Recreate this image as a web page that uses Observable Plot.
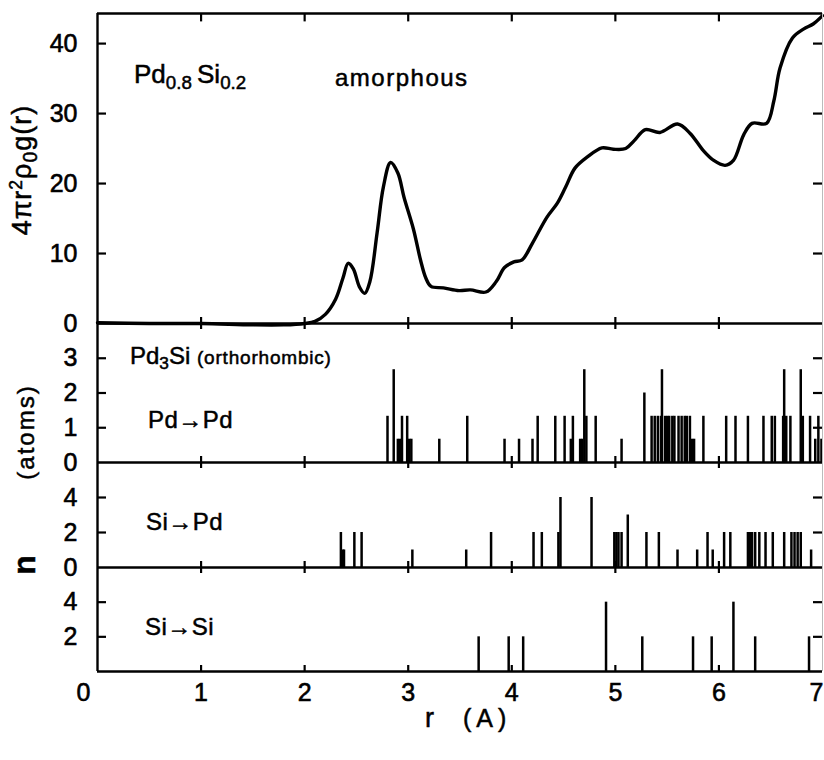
<!DOCTYPE html>
<html><head><meta charset="utf-8">
<script src="https://cdn.jsdelivr.net/npm/d3@7"></script>
<script src="https://cdn.jsdelivr.net/npm/@observablehq/plot@0.6"></script>
<style>
body{margin:0;background:#fff;}
#fig{position:relative;width:824px;height:760px;background:#fff;font-family:"Liberation Sans",Arial,sans-serif;color:#000;overflow:hidden;}
#fig svg{position:absolute;left:0;}
#fig svg text{stroke:#000;stroke-width:0.6px;}
.lbl,.rot{-webkit-text-stroke:0.5px #000;}
.lbl{position:absolute;white-space:nowrap;line-height:1;}
.rot{position:absolute;white-space:nowrap;line-height:1;transform:translate(-50%,-50%) rotate(-90deg);}
sub{font-size:0.72em;vertical-align:-0.3em;}
sup{font-size:0.65em;vertical-align:0.55em;}
</style></head><body><div id="fig"></div>
<script>
// ---------- data ----------
const rCurve = [0, 0.5, 1.0, 1.5, 1.8, 2.0, 2.1, 2.2, 2.3, 2.37, 2.42, 2.47, 2.53, 2.58, 2.63, 2.7, 2.76, 2.83, 2.9, 2.96, 3.05, 3.12, 3.17, 3.22, 3.34, 3.49, 3.6, 3.75, 3.85, 3.93, 4.02, 4.1, 4.2, 4.34, 4.44, 4.52, 4.61, 4.73, 4.87, 4.98, 5.1, 5.18, 5.29, 5.43, 5.6, 5.72, 5.85, 5.95, 6.06, 6.14, 6.24, 6.32, 6.46, 6.53, 6.59, 6.71, 6.82, 6.91, 7.0];
const gCurve = [0.1, 0.0, 0.0, -0.2, -0.2, 0.0, 0.3, 1.3, 3.5, 6.5, 8.6, 7.8, 5.2, 4.3, 6.0, 13.0, 19.5, 23.0, 21.5, 18.0, 13.5, 9.0, 6.5, 5.3, 5.1, 4.7, 4.8, 4.5, 6.0, 8.0, 8.8, 9.1, 11.5, 15.2, 17.2, 19.5, 22.2, 23.8, 25.1, 24.9, 25.0, 26.1, 27.7, 27.3, 28.5, 27.2, 24.7, 23.3, 22.6, 23.3, 27.0, 28.6, 28.6, 31.8, 36.5, 40.8, 42.1, 42.8, 44.0];

const pdpdR = [2.80, 2.86, 2.90, 2.92, 2.94, 2.99, 3.01, 3.03, 3.30, 3.57, 3.93, 4.07, 4.20, 4.25, 4.42, 4.51, 4.57, 4.59, 4.66, 4.68, 4.70, 4.72, 4.81, 5.06, 5.28, 5.35, 5.38, 5.41, 5.44, 5.45, 5.48, 5.50, 5.52, 5.55, 5.57, 5.61, 5.64, 5.67, 5.69, 5.72, 5.74, 5.76, 5.85, 6.07, 6.16, 6.28, 6.43, 6.51, 6.54, 6.62, 6.63, 6.65, 6.69, 6.79, 6.81, 6.88, 6.93, 6.96, 6.99];
const pdpdN = [1.33, 2.67, 0.67, 0.67, 1.33, 1.33, 0.67, 0.67, 0.67, 1.33, 0.67, 0.67, 0.67, 1.33, 1.33, 1.33, 0.67, 1.33, 0.67, 0.67, 2.67, 1.33, 1.33, 0.67, 2.0, 1.33, 1.33, 1.33, 1.33, 2.67, 1.33, 1.33, 1.33, 1.33, 1.33, 1.33, 1.33, 1.33, 1.33, 1.33, 0.67, 0.67, 1.33, 1.33, 1.33, 1.33, 1.33, 1.33, 1.33, 1.33, 2.67, 1.33, 1.33, 2.67, 1.33, 1.33, 0.67, 1.33, 0.67];

const sipdR = [2.35, 2.37, 2.38, 2.48, 2.55, 3.04, 3.56, 3.80, 4.21, 4.29, 4.45, 4.47, 4.77, 4.99, 5.01, 5.03, 5.06, 5.12, 5.30, 5.42, 5.60, 5.79, 5.89, 5.94, 6.05, 6.11, 6.28, 6.30, 6.32, 6.35, 6.39, 6.45, 6.52, 6.63, 6.70, 6.73, 6.76, 6.79, 6.89];
const sipdN = [2, 1, 1, 2, 2, 1, 1, 2, 2, 2, 2, 4, 4, 2, 2, 2, 2, 3, 2, 2, 1, 1, 2, 1, 2, 2, 2, 2, 2, 2, 2, 2, 2, 2, 2, 2, 2, 2, 1];

const sisiR = [3.68, 3.97, 4.11, 4.91, 5.26, 5.75, 5.93, 6.14, 6.35, 6.87];
const sisiN = [2, 2, 2, 4, 2, 2, 2, 4, 2, 2];

const xTicks = [0, 1, 2, 3, 4, 5, 6, 7];
const yTicksA = [0, 10, 20, 30, 40];
const yTicksB = [0, 1, 2, 3];
const yTicksC = [0, 2, 4];
const yTicksD = [2, 4];
const yMaxA = 44.3, yMaxB = 4, yMaxC = 6, yMaxD = 6;

// ---------- layout ----------
const W = 824, LEFT = 97, RIGHT = 2, XMAX = 7;
const FONT = '"Liberation Sans", Arial, sans-serif';
const fig = document.getElementById("fig");
const pxPerX = (W - LEFT - RIGHT) / XMAX;
const innerX = xTicks.filter(d => d > 0 && d < XMAX);

function panel({top, bottom, yMax, yTicks, data, curve, topBorder, bottomLabels}) {
  const mT = 12, mB = bottomLabels ? 70 : 12;
  const pxPerY = (bottom - top) / yMax;
  const tx = 9 / pxPerX;         // inward y-tick length in x units
  const ty = 6 / pxPerY;         // x-tick half length in y units
  const marks = [];
  if (curve) marks.push(Plot.line(curve, {x: "r", y: "g", curve: "catmull-rom", strokeWidth: 3.4, strokeLinejoin: "round"}));
  if (data) marks.push(Plot.ruleX(data, {x: "r", y1: 0, y2: "n", strokeWidth: 2.5}));
  marks.push(Plot.ruleX([0], {y1: 0, y2: yMax, strokeWidth: 2.4}));
  marks.push(Plot.ruleX([XMAX], {y1: 0, y2: yMax, strokeWidth: 1, stroke: "#bbb"}));
  marks.push(Plot.ruleY([0], {strokeWidth: 2.4}));
  const tk = yTicks.filter(d => d > 0);
  marks.push(Plot.ruleY(tk, {x1: 0, x2: tx, strokeWidth: 2.2}));
  marks.push(Plot.ruleY(tk, {x1: XMAX - tx, x2: XMAX, strokeWidth: 2.2}));
  if (bottomLabels) {
    marks.push(Plot.ruleX(innerX, {y1: 0, y2: ty, strokeWidth: 2.2}));
    const tsty = {y: () => 0, text: d => String(d), dy: 21, fontSize: 25};
    marks.push(Plot.text(xTicks.filter(d => d === 0), {x: d => d, dx: -14, ...tsty}));
    marks.push(Plot.text(innerX, {x: d => d, ...tsty}));
    marks.push(Plot.text(xTicks.filter(d => d === XMAX), {x: d => d, dx: -6, ...tsty}));
  } else {
    marks.push(Plot.ruleX(innerX, {y1: -ty, y2: ty, strokeWidth: 2.2}));
  }
  if (topBorder) {
    marks.push(Plot.ruleY([yMax], {strokeWidth: 2.4}));
    marks.push(Plot.ruleX(innerX, {y1: yMax - 1.4 * ty, y2: yMax, strokeWidth: 2.2}));
  }
  const svg = Plot.plot({
    width: W,
    height: mT + (bottom - top) + mB,
    marginLeft: LEFT, marginRight: RIGHT, marginTop: mT, marginBottom: mB,
    x: {domain: [0, XMAX], axis: null},
    y: {domain: [0, yMax], ticks: yTicks, tickSize: 0, tickPadding: 20, label: null, tickFormat: d => String(d)},
    style: {background: "transparent", overflow: "visible", fontSize: "25px", fontFamily: FONT, color: "#000"},
    marks
  });
  svg.style.top = (top - mT) + "px";
  fig.appendChild(svg);
}

const curveData = rCurve.map((r, i) => ({r, g: gCurve[i]}));
const pdpd = pdpdR.map((r, i) => ({r, n: pdpdN[i]}));
const sipd = sipdR.map((r, i) => ({r, n: sipdN[i]}));
const sisi = sisiR.map((r, i) => ({r, n: sisiN[i]}));

panel({top: 13, bottom: 323, yMax: yMaxA, yTicks: yTicksA, curve: curveData, topBorder: true});
panel({top: 323, bottom: 462, yMax: yMaxB, yTicks: yTicksB, data: pdpd});
panel({top: 462, bottom: 567, yMax: yMaxC, yTicks: yTicksC, data: sipd});
panel({top: 567, bottom: 671, yMax: yMaxD, yTicks: yTicksD, data: sisi, bottomLabels: true});

// ---------- text ----------
function lbl(html, left, cy, size, extra = "") {
  const d = document.createElement("div");
  d.className = "lbl";
  d.innerHTML = html;
  d.style.cssText += `left:${left}px;top:${cy}px;font-size:${size}px;transform:translateY(-50%);${extra}`;
  fig.appendChild(d);
}
function rot(html, cx, cy, size, extra = "") {
  const d = document.createElement("div");
  d.className = "rot";
  d.innerHTML = html;
  d.style.cssText += `left:${cx}px;top:${cy}px;font-size:${size}px;${extra}`;
  fig.appendChild(d);
}
lbl("Pd<sub>0.8</sub>&thinsp;Si<sub>0.2</sub>", 134, 77, 26);
lbl("amorphous", 335, 78, 24, "letter-spacing:1.5px;");
lbl("Pd<sub>3</sub>Si <span style='font-size:19px;letter-spacing:0.8px'>(orthorhombic)</span>", 130, 358, 24);
lbl("Pd→Pd", 148, 420, 24, "letter-spacing:0.5px;");
lbl("Si→Pd", 146, 522, 24, "letter-spacing:0.5px;");
lbl("Si→Si", 145, 627, 24, "letter-spacing:0.5px;");
lbl("r", 425, 718, 27);
lbl("(A)", 463, 718, 25, "letter-spacing:5px;");
rot("4πr<sup>2</sup>ρ<sub>0</sub>g(r)", 24, 170, 27, "letter-spacing:1px;");
rot("(atoms)", 26, 432, 24, "letter-spacing:2px;");
rot("n", 24, 565, 32, "font-weight:bold;");
</script></body></html>
